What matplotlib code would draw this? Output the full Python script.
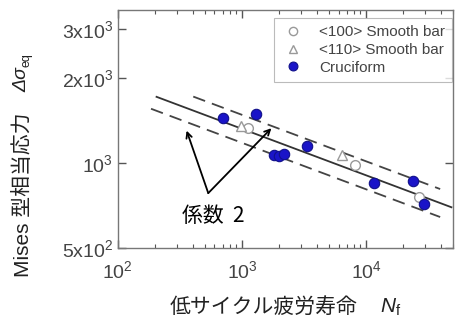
import matplotlib
matplotlib.use("Agg")
import matplotlib.pyplot as plt
import numpy as np
from matplotlib.ticker import FixedLocator, LogLocator, NullFormatter

plt.rcParams['font.family'] = ['Liberation Sans', 'Noto Sans CJK JP', 'DejaVu Sans']
plt.rcParams['mathtext.fontset'] = 'custom'
plt.rcParams['mathtext.rm'] = 'Liberation Sans'
plt.rcParams['mathtext.sf'] = 'Liberation Sans'
plt.rcParams['mathtext.it'] = 'Liberation Sans:italic'

# data
n_100 = [1120, 8170, 26800]
s_100 = [1338, 989, 757]
n_110 = [990, 6380]
s_110 = [1360, 1068]
n_cross = [706, 1309, 1815, 1990, 2183, 3342, 11670, 23950, 29360]
s_cross = [1446, 1494, 1068, 1060, 1077, 1153, 850, 862, 717]

# fitted line  log S = a + b log N, and factor-of-2 band
fit_a = 3.617
fit_b = -0.165
band_factor = 2.0
fit_n = [205, 48700]
upper_n = [405, 39500]
lower_n = [185, 39500]

y_ticks = [500, 1000, 2000, 3000]
y_labels = [r'$\mathsf{5x10^{2}}$', r'$\mathsf{10^{3}}$',
            r'$\mathsf{2x10^{3}}$', r'$\mathsf{3x10^{3}}$']
x_ticks = [100, 1000, 10000]
x_labels = [r'$\mathsf{10^{2}}$', r'$\mathsf{10^{3}}$', r'$\mathsf{10^{4}}$']


def fit_s(n, shift=1.0):
    n = np.asarray(n, dtype=float) * shift
    return 10 ** (fit_a + fit_b * np.log10(n))


fig = plt.figure(figsize=(4.64, 3.2), dpi=100)
ax = fig.add_axes([0.254, 0.225, 0.722, 0.744])

grey = '#555555'
ax.plot(fit_n, fit_s(fit_n), color='#333333', lw=1.3)
ax.plot(upper_n, fit_s(upper_n, 1 / band_factor), color='#444444', lw=1.3,
        dashes=(7, 4))
ax.plot(lower_n, fit_s(lower_n, band_factor), color='#444444', lw=1.3,
        dashes=(7, 4))

ax.plot(n_100, s_100, 'o', ls='none', mfc='white', mec='#999999', ms=7,
        mew=1.0, label='<100> Smooth bar')
ax.plot(n_110, s_110, '^', ls='none', mfc='white', mec='#999999', ms=7,
        mew=1.0, label='<110> Smooth bar')
ax.plot(n_cross, s_cross, 'o', ls='none', mfc='#1a14c8', mec='#10108a', ms=7.5,
        mew=0.8, label='Cruciform')

ax.set_xscale('log')
ax.set_yscale('log')
ax.set_xlim(100, 50000)
ax.set_ylim(500, 3500)

ax.xaxis.set_major_locator(FixedLocator(x_ticks))
ax.set_xticklabels(x_labels)
ax.xaxis.set_minor_locator(LogLocator(base=10, subs=np.arange(2, 10)))
ax.xaxis.set_minor_formatter(NullFormatter())
ax.yaxis.set_major_locator(FixedLocator(y_ticks))
ax.set_yticklabels(y_labels)
ax.yaxis.set_minor_locator(FixedLocator([]))

ax.tick_params(which='both', direction='in', top=True, right=True,
               colors=grey, labelcolor='#444444', labelsize=14)
ax.tick_params(which='major', length=6, width=1.0)
ax.tick_params(which='minor', length=3, width=0.8)
ax.tick_params(axis='x', which='major', pad=9)
for sp in ax.spines.values():
    sp.set_color('#777777')
    sp.set_linewidth(1.0)

leg = ax.legend(loc='upper right', bbox_to_anchor=(0.997, 0.965), fontsize=11,
                frameon=True, fancybox=False, edgecolor='#aaaaaa',
                labelspacing=0.25, handletextpad=0.9, borderpad=0.45,
                handlelength=1.6, borderaxespad=0.0, markerscale=0.85)
leg.get_frame().set_linewidth(0.8)
for t in leg.get_texts():
    t.set_color('#444444')

# annotation
ax.annotate('', xy=(358, 1305), xytext=(535, 783),
            arrowprops=dict(arrowstyle='->', color='black', lw=1.3,
                            shrinkA=0, shrinkB=0))
ax.annotate('', xy=(1726, 1331), xytext=(535, 783),
            arrowprops=dict(arrowstyle='->', color='black', lw=1.3,
                            shrinkA=0, shrinkB=0))
ax.text(586, 650, '係数  2', fontsize=15, ha='center', va='center',
        family=['Noto Sans CJK JP', 'DejaVu Sans'])

# axis titles, CJK and math parts as separate texts
W, H = 464.0, 320.0
fig.text(358 / W, 1 - 307 / H, '低サイクル疲労寿命', fontsize=15,
         ha='right', va='center', color='#222222',
         family=['Noto Sans CJK JP', 'DejaVu Sans'])
fig.text(380 / W, 1 - 307 / H, r'$\mathit{N}_{\mathrm{f}}$', fontsize=15,
         ha='left', va='center', color='#222222')
fig.text(23 / W, 1 - 277 / H, 'Mises 型相当応力', fontsize=15, rotation=90,
         ha='center', va='bottom', color='#222222',
         family=['Liberation Sans', 'Noto Sans CJK JP'])
ds = fig.text(22 / W, 1 - 92 / H, 'Δσ', fontsize=14, rotation=90,
              style='italic', ha='center', va='bottom', color='#222222',
              family=['Liberation Sans'])
ax.annotate('eq', xy=(0.5, 1.0), xycoords=ds, xytext=(3.5, 0),
            textcoords='offset points', rotation=90, ha='center', va='bottom',
            fontsize=9, color='#222222', annotation_clip=False)

fig.savefig('out.png', dpi=100, facecolor='white')
